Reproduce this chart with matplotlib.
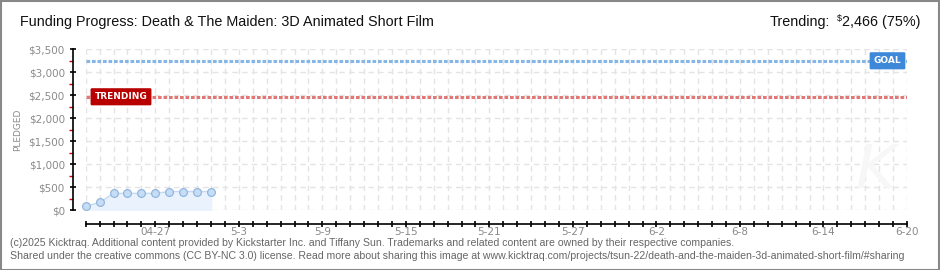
import matplotlib
matplotlib.use("Agg")
import matplotlib.pyplot as plt
import matplotlib.dates as mdates
import pandas as pd
from matplotlib.ticker import FixedLocator, MultipleLocator, FuncFormatter

# data
pledge_dates = ["2025-04-22", "2025-04-23", "2025-04-24", "2025-04-25", "2025-04-26",
                "2025-04-27", "2025-04-28", "2025-04-29", "2025-04-30", "2025-05-01"]
pledged = [80, 165, 362, 362, 362, 362, 402, 402, 402, 402]
campaign_start = "2025-04-22"
campaign_end = "2025-06-20"
goal = 3250
trending = 2466
trending_pct = 75
tick_dates = ["2025-04-27", "2025-05-03", "2025-05-09", "2025-05-15", "2025-05-21",
              "2025-05-27", "2025-06-02", "2025-06-08", "2025-06-14", "2025-06-20"]
tick_labels = ["04-27", "5-3", "5-9", "5-15", "5-21", "5-27", "6-2", "6-8", "6-14", "6-20"]

x = mdates.date2num(pd.to_datetime(pledge_dates))
x0 = mdates.date2num(pd.Timestamp(campaign_start))
x1 = mdates.date2num(pd.Timestamp(campaign_end))
day_ticks = mdates.date2num(pd.date_range(campaign_start, campaign_end, freq="D"))
major_x = mdates.date2num(pd.to_datetime(tick_dates))

W, H = 940, 270
TXT = "Liberation Sans"
fig = plt.figure(figsize=(W / 100, H / 100), dpi=100)
fig.patch.set_facecolor("white")
ax = fig.add_axes([85.7 / W, (H - 210) / H, (907 - 85.7) / W, (210 - 49.3) / H])

ax.set_xlim(x0, x1)
ax.set_ylim(0, 3500)

# grid
for d in day_ticks:
    ax.axvline(d, color="#e4e4e4", lw=1, ls=(0, (4, 3)), zorder=0)
for v in range(0, 3501, 500):
    ax.axhline(v, color="#e4e4e4", lw=1, ls=(0, (4, 3)), zorder=0)

# goal / trending lines
ax.axhline(goal, color="#86b6e6", lw=2.2, ls=(0, (1.2, 0.6)), zorder=2)
ax.axhline(trending, color="#e07878", lw=2.2, ls=(0, (1.2, 0.6)), zorder=2)

gx = x0 + (887.5 - 85.7) / (907 - 85.7) * (x1 - x0)
tx = x0 + (121 - 85.7) / (907 - 85.7) * (x1 - x0)
ax.text(gx, goal, "GOAL", color="white", fontsize=6.5, fontweight="bold",
        ha="center", va="center", zorder=5,
        bbox=dict(boxstyle="round,pad=0.45,rounding_size=0.15", fc="#3d88d9", ec="none"))
ax.text(tx, trending, "TRENDING", color="white", fontsize=6.5, fontweight="bold",
        ha="center", va="center", zorder=5,
        bbox=dict(boxstyle="round,pad=0.45,rounding_size=0.15", fc="#b80000", ec="none"))

# pledged series
ax.fill_between(x, pledged, 0, color="#eaf3fd", zorder=1)
ax.plot(x, pledged, color="#c3daf3", lw=1, zorder=3)
ax.plot(x, pledged, "o", ms=5.6, mfc="#c6ddf6", mec="#94b6de", mew=0.9,
        zorder=4, clip_on=False)

# spines
for s in ["top", "right"]:
    ax.spines[s].set_visible(False)
ax.spines["left"].set_position(("outward", 9.5))
ax.spines["bottom"].set_position(("outward", 10))
ax.spines["left"].set_bounds(0, 3500)
ax.spines["bottom"].set_bounds(x0, x1)
ax.spines["left"].set_linewidth(1.2)
ax.spines["bottom"].set_linewidth(1.2)

ax.yaxis.set_major_locator(MultipleLocator(500))
ax.yaxis.set_minor_locator(MultipleLocator(250))
ax.yaxis.set_major_formatter(FuncFormatter(lambda v, p: f"${int(v):,}"))
ax.tick_params(axis="y", which="major", direction="inout", length=5, width=1.2,
               color="black", labelcolor="#8a8a8a", labelsize=7.5, pad=3)
ax.tick_params(axis="y", which="minor", direction="out", length=3, width=1,
               color="#d40000")

ax.xaxis.set_major_locator(FixedLocator(major_x))
ax.xaxis.set_minor_locator(FixedLocator(day_ticks))
ax.set_xticklabels(tick_labels)
ax.tick_params(axis="x", which="both", direction="inout", length=4, width=1.2,
               color="black", labelcolor="#8a8a8a", labelsize=7.5, pad=0)

ax.set_ylabel("PLEDGED", color="#8a8a8a", fontsize=6.5, labelpad=8)
ax.yaxis.set_label_coords(-0.078, 0.5)

# header
fig.text(20 / W, 1 - 22 / H, "Funding Progress: Death & The Maiden: 3D Animated Short Film",
         fontsize=10.4, family=TXT, color="#111111", va="center")
rt = fig.text(920 / W, 1 - 22 / H, f"{trending:,} ({trending_pct}%)",
              fontsize=10.4, family=TXT, color="#111111", va="center", ha="right")
fig.canvas.draw()
bb = rt.get_window_extent().transformed(fig.transFigure.inverted())
dt = fig.text(bb.x0, 1 - 18 / H, "$", fontsize=6.5, family=TXT, color="#111111",
              va="center", ha="right")
fig.canvas.draw()
bb2 = dt.get_window_extent().transformed(fig.transFigure.inverted())
fig.text(bb2.x0 - 6 / W, 1 - 22 / H, "Trending:", fontsize=10.4, family=TXT,
         color="#111111", va="center", ha="right")

# footer
fig.text(10 / W, 1 - 243 / H,
         "(c)2025 Kicktraq. Additional content provided by Kickstarter Inc. and Tiffany Sun. "
         "Trademarks and related content are owned by their respective companies.",
         fontsize=7.6, family=TXT, color="#666666", va="center")
fig.text(10 / W, 1 - 256 / H,
         "Shared under the creative commons (CC BY-NC 3.0) license. Read more about sharing this image "
         "at www.kicktraq.com/projects/tsun-22/death-and-the-maiden-3d-animated-short-film/#sharing",
         fontsize=7.6, family=TXT, color="#666666", va="center")

# watermark
fig.text(875 / W, 1 - 172 / H, "K", fontsize=44, style="italic", color="#f7f7f7",
         ha="center", va="center", zorder=0)

# frame
fig.add_artist(plt.Rectangle((0.5 / W, 0.5 / H), (W - 1.5) / W, (H - 1.5) / H,
                             transform=fig.transFigure, fill=False, ec="#888888", lw=1.5))

fig.savefig("out.png", dpi=100)
